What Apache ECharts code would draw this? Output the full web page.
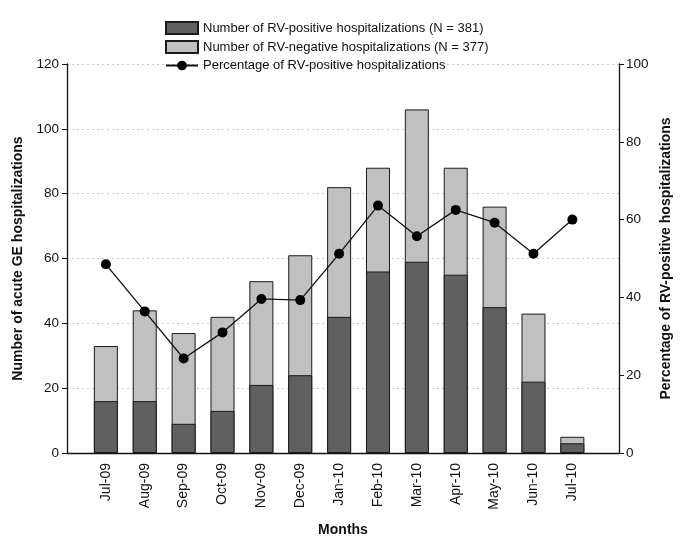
<!DOCTYPE html>
<html><head><meta charset="utf-8">
<script src="https://cdn.jsdelivr.net/npm/echarts@6/dist/echarts.min.js"></script>
<style>html,body{margin:0;padding:0;background:#fff}#c{width:682px;height:549px}</style>
</head><body><div id="c"></div>
<script>
const months = ['Jul-09','Aug-09','Sep-09','Oct-09','Nov-09','Dec-09','Jan-10','Feb-10','Mar-10','Apr-10','May-10','Jun-10','Jul-10'];
const rvPositive = [16,16,9,13,21,24,42,56,59,55,45,22,3];
const rvNegative = [17,28,28,29,32,37,40,32,47,33,31,21,2];
const pctPositive = [48.5,36.4,24.3,31.0,39.6,39.3,51.2,63.6,55.7,62.5,59.2,51.2,60.0];
const leftTicks = [0,20,40,60,80,100,120];
const rightTicks = [0,20,40,60,80,100];

const font = 'Liberation Sans, Arial, sans-serif';
const posName = 'Number of RV-positive hospitalizations (N = 381)';
const negName = 'Number of RV-negative hospitalizations (N = 377)';
const pctName = 'Percentage of RV-positive hospitalizations';
const chart = echarts.init(document.getElementById('c'));
chart.setOption({
  animation:false,
  textStyle:{fontFamily:font},
  legend:{
    orient:'vertical', left:160, top:16, itemGap:5, itemWidth:32, itemHeight:12,
    textStyle:{fontSize:13,color:'#111',fontFamily:font},
    data:[{name:posName,icon:'rect'},{name:negName,icon:'rect'},{name:pctName}]
  },
  grid:{left:67,right:63,top:64,bottom:96},
  xAxis:{
    type:'value', min:-1, max:13.2, interval:1,
    name:'Months', nameLocation:'middle', nameGap:70,
    nameTextStyle:{fontSize:14,fontWeight:'bold',color:'#111',fontFamily:font},
    axisLine:{show:true,onZero:false,lineStyle:{color:'#111',width:1.3}},
    axisTick:{show:false}, splitLine:{show:false},
    axisLabel:{rotate:90,fontSize:14,color:'#111',margin:10,showMaxLabel:false,showMinLabel:false,
      formatter:v=>{const i=Math.round(v);return (i>=0&&i<months.length)?months[i]:'';}}
  },
  yAxis:[{
    type:'value', min:0, max:120, interval:20, position:'left',
    name:'Number of acute GE hospitalizations', nameLocation:'middle', nameGap:36, nameRotate:90,
    nameTextStyle:{fontSize:14,fontWeight:'bold',color:'#111',fontFamily:font},
    axisLine:{show:true,onZero:false,lineStyle:{color:'#111',width:1.3}},
    axisTick:{show:true,length:5,lineStyle:{color:'#111'}},
    axisLabel:{fontSize:13.5,color:'#111',margin:8},
    splitLine:{show:true,lineStyle:{color:'#c8c8c8',type:[2,3],width:1}}
  },{
    type:'value', min:0, max:100, interval:20, position:'right',
    name:'Percentage of RV-positive hospitalizations', nameLocation:'middle', nameGap:34, nameRotate:90,
    nameTextStyle:{fontSize:14,fontWeight:'bold',color:'#111',fontFamily:font},
    axisLine:{show:true,onZero:false,lineStyle:{color:'#111',width:1.3}},
    axisTick:{show:true,length:5,lineStyle:{color:'#111'}},
    axisLabel:{fontSize:13.5,color:'#111',margin:7},
    splitLine:{show:false}
  }],
  series:[{
    name:negName, type:'bar', barWidth:24, barGap:'-100%',
    itemStyle:{color:'#c0c0c0',borderColor:'#1a1a1a',borderWidth:1},
    data:rvNegative.map((v,i)=>[i,v+rvPositive[i]])
  },{
    name:posName, type:'bar', barWidth:24, barGap:'-100%',
    itemStyle:{color:'#606060',borderColor:'#1a1a1a',borderWidth:1},
    data:rvPositive.map((v,i)=>[i,v])
  },{
    name:pctName, type:'line', yAxisIndex:1,
    symbol:'circle', symbolSize:10,
    lineStyle:{color:'#111',width:1.3}, itemStyle:{color:'#000'},
    data:pctPositive.map((v,i)=>[i,v])
  }]
});
</script></body></html>
